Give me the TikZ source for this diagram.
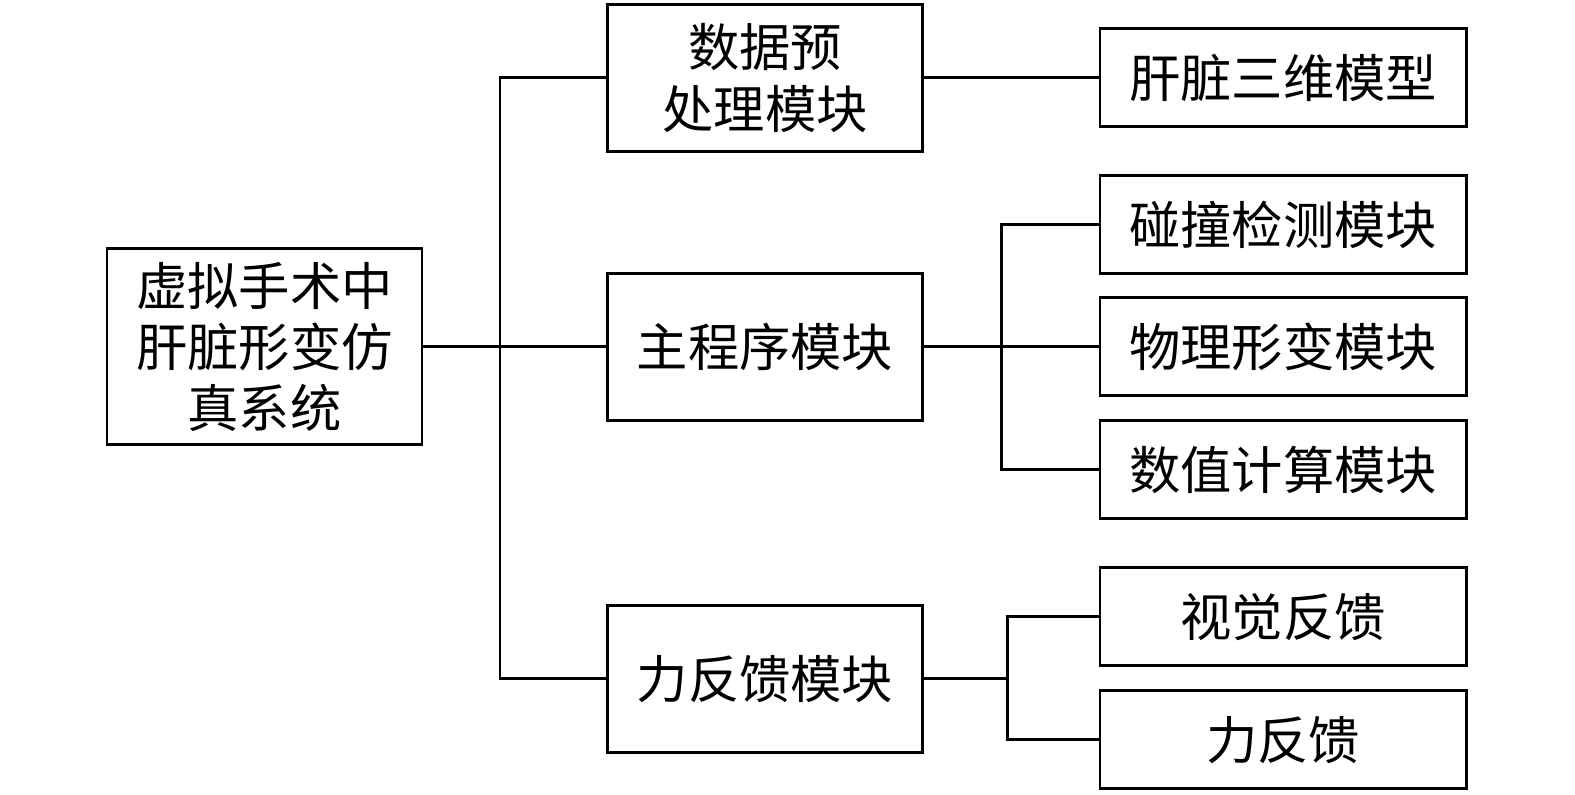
\documentclass[tikz,border=0pt]{standalone}
\usepackage{fontspec}
\setmainfont{Noto Sans CJK SC}
\usepackage{tikz}
\usetikzlibrary{positioning}

\tikzset{
  blk/.style={draw, line width=0.85pt, inner sep=0pt, align=center,
    font=\fontsize{14.6pt}{17.4pt}\selectfont},
  root/.style={blk, minimum width=3.15cm, minimum height=1.96cm},
  mid/.style={blk, minimum width=3.155cm, minimum height=1.47cm},
  leaf/.style={blk, minimum width=3.66cm, minimum height=0.98cm},
  link/.style={line width=0.85pt}
}

\begin{document}
\begin{tikzpicture}
    \useasboundingbox (0,0) rectangle (15.75,-7.95);
    \node[root] (sys) at (2.645,-3.47) {虚拟手术中\\肝脏形变仿\\真系统};
    \node[mid] (dp) at (7.65,-0.78) {数据预\\处理模块};
    \node[mid] (main) at (7.65,-3.47) {主程序模块};
    \node[mid] (fb) at (7.65,-6.79) {力反馈模块};
    \node[leaf] (lm) at (12.83,-0.78) {肝脏三维模型};
    \node[leaf] (cd) at (12.83,-2.25) {碰撞检测模块};
    \node[leaf] (pd) at (12.83,-3.47) {物理形变模块};
    \node[leaf] (nc) at (12.83,-4.70) {数值计算模块};
    \node[leaf] (vf) at (12.83,-6.17) {视觉反馈};
    \node[leaf] (ff) at (12.83,-7.40) {力反馈};
    \coordinate (trunk) at (5.00,-3.47);
    \coordinate (b1) at (10.015,-3.47);
    \coordinate (b2) at (10.075,-6.79);
    \draw[link] (sys) -- (main);
    \draw[link] (dp.west) -| (trunk) |- (fb.west);
    \draw[link] (dp) -- (lm);
    \draw[link] (main) -- (pd);
    \draw[link] (cd.west) -| (b1) |- (nc.west);
    \draw[link] (fb) -- (b2);
    \draw[link] (vf.west) -| (b2) |- (ff.west);
  \end{tikzpicture}
\end{document}
